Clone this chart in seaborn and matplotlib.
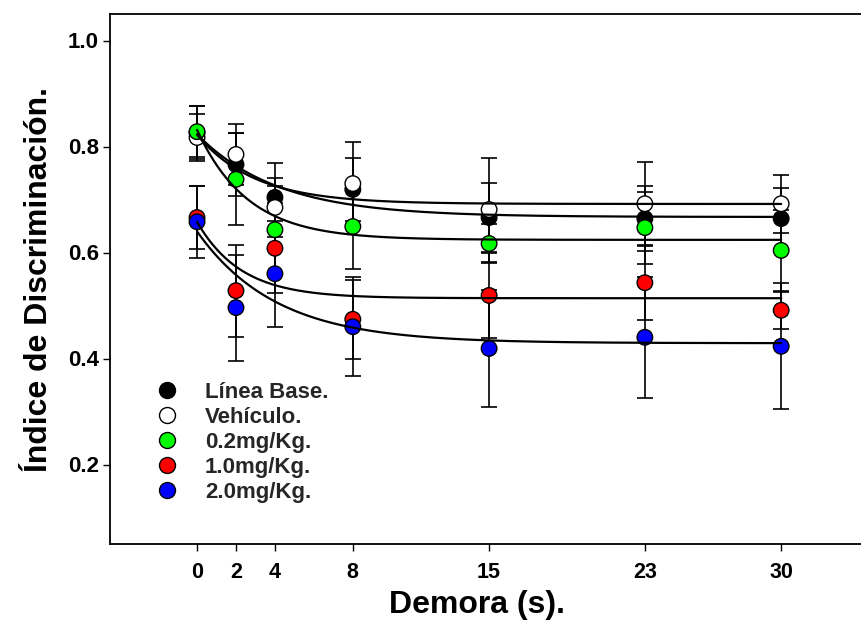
import numpy as np
import pandas as pd
import matplotlib
matplotlib.use("Agg")
import matplotlib.pyplot as plt
import seaborn as sns
from matplotlib.lines import Line2D

# ---------------- data ----------------
delay = [0, 2, 4, 8, 15, 23, 30]
tick_labels = ["0", "2", "4", "8", "15", "23", "30"]
series_names = ["Línea Base.", "Vehículo.", "0.2mg/Kg.", "1.0mg/Kg.", "2.0mg/Kg."]

base = [0.826, 0.766, 0.704, 0.719, 0.666, 0.664, 0.664]
base_err = [0.050, 0.060, 0.064, 0.060, 0.066, 0.061, 0.058]
veh = [0.817, 0.785, 0.685, 0.730, 0.681, 0.692, 0.692]
veh_err = [0.045, 0.058, 0.055, 0.078, 0.098, 0.078, 0.055]
g02 = [0.828, 0.738, 0.643, 0.649, 0.617, 0.647, 0.604]
g02_err = [0.048, 0.087, 0.082, 0.080, 0.036, 0.068, 0.077]
r10 = [0.666, 0.528, 0.608, 0.474, 0.519, 0.543, 0.491]
r10_err = [0.060, 0.087, 0.085, 0.075, 0.080, 0.070, 0.035]
b20 = [0.658, 0.496, 0.560, 0.460, 0.419, 0.440, 0.423]
b20_err = [0.068, 0.100, 0.100, 0.093, 0.111, 0.114, 0.119]

colors = ["#000000", "#FFFFFF", "#00FF00", "#FF0000", "#0000FF"]

means = [base, veh, g02, r10, b20]
errs = [base_err, veh_err, g02_err, r10_err, b20_err]

rows = []
for name, m, e in zip(series_names, means, errs):
    for x, y, s in zip(delay, m, e):
        rows.append({"delay": x, "value": y, "err": s, "group": name})
df = pd.DataFrame(rows)


def fit_exp(x, y):
    x = np.asarray(x, float)
    y = np.asarray(y, float)
    best = None
    for b in np.linspace(0.02, 3.0, 1500):
        A = np.column_stack([np.ones_like(x), np.exp(-b * x)])
        coef, *_ = np.linalg.lstsq(A, y, rcond=None)
        sse = np.sum((A @ coef - y) ** 2)
        if best is None or sse < best[0]:
            best = (sse, coef[0], coef[1], b)
    return best[1:]


# ---------------- figure ----------------
sns.set_theme(style="white")
plt.rcParams["font.family"] = ["Liberation Sans", "DejaVu Sans"]
plt.rcParams["font.weight"] = "bold"

fig = plt.figure(figsize=(8.61, 6.35), dpi=100)
ax = fig.add_axes([110 / 861, 1 - 544 / 635, 1 - 110 / 861, (544 - 14) / 635])

xfine = np.linspace(0, 30, 400)
for i, name in enumerate(series_names):
    sub = df[df["group"] == name]
    ax.errorbar(sub["delay"], sub["value"], yerr=sub["err"], fmt="none",
                ecolor="black", elinewidth=1.2, capsize=5.5, capthick=1.2,
                zorder=2 + i * 0.1)
    y0, a, b = fit_exp(sub["delay"], sub["value"])
    ax.plot(xfine, y0 + a * np.exp(-b * xfine), color="black", lw=1.6,
            zorder=5)

sns.scatterplot(data=df, x="delay", y="value", hue="group",
                hue_order=series_names, palette=dict(zip(series_names, colors)),
                s=125, edgecolor="black", linewidth=1.0, legend=False,
                zorder=4, ax=ax)

ax.set_xlim(-4.47, 34.1)
ax.set_ylim(0.05, 1.05)
ax.set_xticks(delay)
ax.set_xticklabels(tick_labels)
ax.set_yticks([0.2, 0.4, 0.6, 0.8, 1.0])
ax.set_yticklabels(["0.2", "0.4", "0.6", "0.8", "1.0"])

for sp in ["left", "bottom", "top"]:
    ax.spines[sp].set_visible(True)
    ax.spines[sp].set_color("black")
    ax.spines[sp].set_linewidth(1.3)
ax.spines["right"].set_visible(False)

ax.tick_params(axis="x", direction="out", length=5, width=1, color="black",
               pad=8, labelsize=15.5, labelcolor="black")
ax.tick_params(axis="y", direction="out", length=5, width=1, color="black",
               pad=3, labelsize=16, labelcolor="black")
ax.tick_params(top=False, right=False, bottom=True, left=True)
for lab in ax.get_xticklabels() + ax.get_yticklabels():
    lab.set_fontweight("bold")

ax.set_xlabel("Demora (s).", fontsize=23, fontweight="bold", color="black")
ax.xaxis.label.set_verticalalignment("center")
ax.xaxis.set_label_coords((477 - 110) / 751, (544 - 605) / 530)
ax.set_ylabel("Índice de Discriminación.", fontsize=23, fontweight="bold",
              color="black", labelpad=10)

handles = [Line2D([0], [0], marker="o", linestyle="none", markersize=11.5,
                  markerfacecolor=c, markeredgecolor="black",
                  markeredgewidth=1.0) for c in colors]
leg = ax.legend(handles, series_names, loc="upper left",
                bbox_to_anchor=((154 - 110) / 751, (544 - 382) / 530),
                frameon=False, prop={"size": 16, "weight": "bold"},
                labelspacing=0.18, handletextpad=1.1, handlelength=1.2,
                borderaxespad=0, borderpad=0)

fig.savefig("out.png", dpi=100)
